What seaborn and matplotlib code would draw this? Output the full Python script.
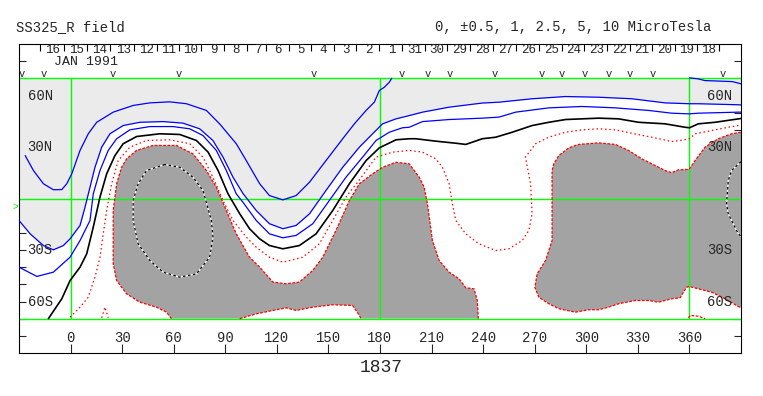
import matplotlib
matplotlib.use("Agg")
import matplotlib.pyplot as plt
import seaborn as sns

sns.set_style("white")
plt.rcParams['font.family'] = ['Liberation Mono', 'DejaVu Sans Mono']

# --- contour lines (longitude, latitude) ---
# 10 uT (outer blue), two pieces
b10_lon = [-26.4, -21.6, -15.8, -10.0, -5.1, -2.2, 0.7, 5.5, 10.3, 15.2, 24.8, 36.4, 46.1, 57.7, 67.4,
           79.0, 86.7, 96.4, 102.2, 110.0, 115.7, 123.5, 131.2, 139.0, 148.6, 158.3, 165.1, 171.9,
           176.7, 179.6, 182.5, 185.4, 186.8]
b10_lat = [25.0, 16.3, 8.6, 5.1, 5.2, 8.6, 14.4, 28.0, 37.7, 44.4, 50.3, 54.2, 55.7, 56.3, 55.2,
           51.3, 43.5, 31.9, 22.1, 8.6, 1.7, -0.8, 1.7, 9.5, 22.1, 34.8, 43.5, 51.3,
           56.1, 62.9, 64.8, 67.7, 70.0]
b10r_lon = [360.0, 365.0, 369.0, 385.0, 390.0]
b10r_lat = [70.3, 69.7, 68.7, 68.1, 66.8]

# 5 uT (blue, edge of the light grey area)
b5_lon = [-30.0, -23.5, -15.8, -10.0, -4.2, -0.3, 5.5, 8.4, 11.3, 14.2, 18.1, 22.9, 30.6, 40.3, 53.8,
          65.4, 75.1, 82.8, 88.7, 94.5, 100.3, 108.0, 115.7, 123.5, 131.2, 139.0, 148.6, 158.3, 168.0,
          175.7, 181.5, 189.3, 197.0, 204.7, 220.2, 239.5, 249.2, 268.5, 287.9, 307.2, 326.5, 345.8,
          360.0, 365.2, 388.4, 390.0]
b5_lat = [-12.8, -20.6, -27.4, -29.9, -27.4, -23.5, -15.7, -5.1, 6.6, 18.2, 29.9, 37.7, 42.5, 44.4, 44.8,
          43.9, 40.6, 33.8, 24.1, 12.4, 2.9, -7.0, -14.7, -17.6, -15.7, -8.9, 4.7, 18.2, 29.9,
          37.7, 43.5, 46.4, 48.3, 50.3, 53.2, 55.6, 56.1, 58.1, 59.4, 59.0, 58.1, 55.7,
          55.2, 55.2, 54.6, 54.5]

# 2.5 uT (blue)
b25_lon = [-30.0, -19.6, -10.0, -0.3, 5.5, 11.3, 13.2, 17.1, 21.9, 26.8, 34.5, 46.1, 59.6, 69.3, 77.0,
           84.8, 90.6, 96.4, 100.3, 108.0, 115.7, 123.5, 131.2, 140.9, 150.5, 160.2, 169.9, 177.7,
           185.4, 193.1, 197.0, 204.7, 220.2, 239.5, 249.2, 258.9, 278.2, 297.5, 316.9, 336.2, 349.7,
           360.0, 365.2, 388.4, 390.0]
b25_lat = [-40.0, -45.4, -42.9, -34.2, -24.5, -12.8, 2.7, 16.3, 28.0, 34.8, 40.0, 41.9, 41.9, 40.6, 36.7,
           28.0, 16.3, 2.7, -2.2, -12.8, -20.6, -22.9, -21.5, -14.7, -1.2, 12.4, 24.1, 33.8,
           38.6, 41.2, 41.5, 44.8, 46.0, 46.8, 47.4, 50.3, 52.8, 53.6, 52.8, 51.3, 49.7,
           49.3, 49.7, 50.3, 50.3]

# 1 uT (black)
k1_lon = [-12.9, -5.1, -0.3, 5.5, 9.4, 13.2, 17.1, 21.0, 25.8, 30.6, 38.4, 51.9, 63.5, 73.2, 80.0,
          85.8, 91.6, 98.4, 104.1, 110.0, 115.7, 123.5, 133.1, 142.8, 152.5, 162.2, 171.9, 179.6,
          189.3, 197.0, 200.9, 212.5, 224.1, 229.9, 239.5, 247.3, 256.9, 268.5, 278.2, 287.9, 307.2,
          318.8, 330.4, 345.8, 357.5, 360.0, 365.2, 374.9, 384.5, 390.0]
k1_lat = [-70.0, -58.4, -47.8, -40.0, -32.2, -16.7, 0.8, 14.4, 25.0, 31.9, 36.1, 37.7, 37.3, 33.8, 27.0,
          16.3, 2.7, -8.9, -17.6, -23.5, -27.4, -29.3, -27.4, -20.6, -7.0, 8.6, 22.1, 29.5,
          34.2, 34.8, 34.8, 33.4, 32.2, 31.5, 34.8, 35.7, 38.6, 42.5, 44.4, 46.0, 46.8,
          46.4, 44.4, 43.5, 41.5, 41.2, 43.5, 44.4, 45.8, 46.6]

# 0.5 uT (red dotted)
r05_lon = [-0.3, 5.5, 10.3, 14.2, 17.1, 19.0, 21.0, 23.9, 27.7, 34.5, 44.2, 57.7, 69.3, 77.0, 82.8,
           88.7, 94.5, 102.2, 108.0, 115.7, 123.5, 135.1, 144.7, 152.5, 160.2, 167.0, 177.7, 187.3,
           197.0, 204.7, 212.5, 216.3, 220.2, 222.1, 224.1, 229.9, 237.6, 247.3, 255.0, 262.7, 266.6,
           268.5, 267.6, 264.6, 270.5, 278.2, 287.9, 297.5, 307.2, 316.9, 326.5, 338.1, 349.7, 354.6,
           360.0, 363.3, 373.0, 382.6, 390.0]
r05_lat = [-69.1, -63.3, -57.5, -45.8, -34.2, -20.6, -7.0, 8.6, 22.1, 29.9, 33.8, 34.2, 31.9, 24.1, 12.4,
           -1.2, -12.8, -22.5, -28.4, -34.2, -37.1, -34.2, -26.4, -12.8, 0.8, 9.5, 24.1, 27.0,
           28.0, 27.0, 23.1, 18.2, 8.6, -3.1, -12.8, -20.6, -26.4, -30.3, -29.3, -24.5, -18.6,
           -8.9, 8.6, 24.1, 31.9, 35.7, 38.6, 40.0, 40.6, 40.0, 38.0, 35.7, 33.2, 33.8,
           34.8, 37.7, 39.6, 41.5, 42.8]
r05s_lon = [18.1, 20.0, 21.9]
r05s_lat = [-69.5, -63.3, -69.5]

# 0 uT (red dashed, edge of the dark grey areas)
r0_lon = [58.7, 55.8, 50.0, 40.3, 32.6, 26.8, 24.8, 24.8, 26.8, 29.7, 32.6, 38.4, 48.0, 61.6, 71.2,
          79.0, 84.8, 90.6, 96.4, 104.1, 110.0, 117.7, 125.4, 133.1, 140.9, 146.7, 154.4, 162.2,
          168.0, 175.7, 181.5, 189.3, 197.0, 202.8, 205.7, 207.6, 210.5, 214.4, 220.2, 226.0, 229.9,
          234.7, 236.6, 237.2]
r0_lat = [-70.0, -66.2, -63.3, -60.4, -55.5, -47.8, -38.0, -7.0, 8.6, 18.2, 23.1, 28.0, 30.9, 30.9, 26.0,
          16.3, 6.6, -7.0, -20.6, -34.2, -40.0, -48.7, -49.7, -48.7, -41.9, -34.2, -18.6, -1.2,
          8.6, 14.4, 18.2, 21.1, 20.2, 12.4, 6.6, -3.1, -24.5, -36.1, -42.9, -46.8, -52.0,
          -52.6, -59.4, -70.0]
r0b_lon = [98.4, 108.0, 117.7, 125.4, 131.2, 140.9, 152.5, 164.1, 168.0, 168.9]
r0b_lat = [-70.0, -67.2, -65.2, -63.7, -65.2, -63.3, -61.9, -62.3, -68.1, -70.0]
r0r_lon = [390.0, 384.5, 376.8, 369.1, 363.3, 360.0, 358.4, 353.6, 349.7, 345.8, 340.1, 332.3, 324.6,
           316.9, 307.2, 295.6, 289.8, 284.0, 281.1, 280.1, 280.1, 280.1, 276.3, 271.4, 270.1, 272.4,
           278.2, 284.0, 293.7, 301.4, 307.2, 313.0, 318.8, 328.5, 336.2, 342.0, 349.7, 354.6, 356.5,
           358.4, 360.0, 365.2, 373.0, 380.7, 390.0]
r0r_lat = [38.6, 37.7, 34.8, 29.9, 22.1, 17.3, 16.9, 16.7, 15.0, 16.3, 19.2, 23.1, 28.0,
           31.5, 32.4, 31.5, 29.5, 25.0, 20.2, 16.3, -3.1, -24.5, -36.1, -43.9, -51.7, -57.5,
           -61.3, -64.2, -66.2, -64.8, -64.8, -63.3, -61.3, -59.4, -59.4, -60.4, -58.4, -57.8, -54.6,
           -51.7, -51.3, -52.6, -54.6, -58.4, -63.8]
r0s_lon = [359.4, 360.5, 365.2, 369.1]
r0s_lat = [-69.5, -68.1, -68.6, -70.0]

# -0.5 uT (black/white dashed, inside the dark grey)
m05_lon = [54.8, 44.2, 39.3, 36.4, 36.4, 39.3, 46.1, 53.8, 63.5, 73.2, 80.9, 82.8, 81.9, 77.0, 71.2, 63.5, 54.8]
m05_lat = [19.8, 16.3, 8.6, -1.2, -12.8, -26.4, -36.1, -42.9, -45.8, -43.9, -34.2, -22.5, -12.8, 4.7, 12.4, 18.2, 19.8]
m05r_lon = [390.0, 384.5, 382.6, 381.6, 382.6, 384.5, 388.4, 390.0]
m05r_lat = [21.5, 16.3, 10.5, -3.1, -9.0, -12.8, -20.6, -22.0]

# --- axis annotations ---
lon_ticks = [0, 30, 60, 90, 120, 150, 180, 210, 240, 270, 300, 330, 360]
lat_ticks = [-80, -70, -60, -50, -40, -30, -20, -10, 0, 10, 20, 30, 40, 50, 60, 70, 80]
lat_labels = {60: '60N', 30: '30N', -30: '30S', -60: '60S'}
day_edges = [-17.8, -3.9, 9.3, 23.2, 36.8, 50.0, 62.9, 76.1, 89.1, 102.7, 113.6, 126.9, 140.1, 153.0,
             166.2, 179.6, 192.8, 205.9, 218.9, 232.4, 246.0, 259.2, 272.5, 285.7, 298.9, 312.1,
             325.3, 338.4, 351.6, 364.2, 377.3]
day_labels = ['16', '15', '14', '13', '12', '11', '10', '9', '8', '7', '6', '5', '4', '3', '2', '1',
              '31', '30', '29', '28', '27', '26', '25', '24', '23', '22', '21', '20', '19', '18']
pass_lon = [-28.5, -15.7, 24.4, 62.8, 141.2, 192.9, 208.0, 220.8, 247.0, 274.3, 285.9, 299.3,
            313.2, 325.4, 338.8, 379.5]

BLUE, RED, GREEN = '#0000ff', '#ff0000', '#00ff00'
LIGHT, DARK = '#ebebeb', '#a3a3a3'
FS = 10

fig = plt.figure(figsize=(7.63, 3.96), dpi=100)
ax = fig.add_axes([19 / 763, 43 / 396, 722 / 763, 309 / 396])
ax.set_xlim(-30, 390)
ax.set_ylim(-90, 90)

# filled areas
ax.fill_between(b5_lon, b5_lat, 70, color=LIGHT, lw=0, zorder=1)
ax.fill(r0_lon + r0b_lon[::-1], r0_lat + r0b_lat[::-1], color=DARK, lw=0, zorder=1)
ax.fill(r0r_lon, r0r_lat, color=DARK, lw=0, zorder=1)

# green reference lines
for la in [70, 0, -70]:
    ax.plot([-30, 390], [la, la], color=GREEN, lw=1, zorder=2)
for lo in [0, 180, 360]:
    ax.plot([lo, lo], [-70, 70], color=GREEN, lw=1, zorder=2)

# contour lines
def line(x, y, color, lw=0.9, ls='-', z=3):
    sns.lineplot(x=x, y=y, sort=False, estimator=None, color=color, lw=lw,
                 linestyle=ls, ax=ax, zorder=z)

for xs, ys in [(b10_lon, b10_lat), (b10r_lon, b10r_lat), (b5_lon, b5_lat), (b25_lon, b25_lat)]:
    line(xs, ys, BLUE)
line(k1_lon, k1_lat, 'black', lw=1.2)
for xs, ys in [(r05_lon, r05_lat), (r05s_lon, r05s_lat)]:
    line(xs, ys, RED, ls=(0, (1.2, 2.2)))
for xs, ys in [(r0_lon, r0_lat), (r0b_lon, r0b_lat), (r0r_lon, r0r_lat), (r0s_lon, r0s_lat)]:
    line(xs, ys, RED, ls=(0, (2.2, 1.2)))
for xs, ys in [(m05_lon, m05_lat), (m05r_lon, m05r_lat)]:
    line(xs, ys, 'white', lw=0.9)
    line(xs, ys, 'black', lw=0.9, ls=(0, (2, 2)), z=4)

# frame and ticks
for s in ax.spines.values():
    s.set_color('black')
    s.set_linewidth(0.8)
ax.set_xticks(lon_ticks)
ax.set_yticks(lat_ticks)
ax.set_xticklabels([])
ax.set_yticklabels([])
ax.tick_params(axis='x', direction='in', length=6.5, width=0.8, bottom=True, top=False)
ax.tick_params(axis='y', direction='in', length=5.2, width=0.8, left=True, right=True)
ax.set_xlabel('')
ax.set_ylabel('')
for lo in lon_ticks:
    ax.text(lo, -81.5, str(lo), ha='center', va='center', fontsize=FS)
for la, t in lat_labels.items():
    ax.text(-25.0, la, t, ha='left', va='center', fontsize=FS)
    ax.text(384.7, la, t, ha='right', va='center', fontsize=FS)

# date strip along the top
ax.vlines(day_edges, 86.0, 90, color='black', lw=0.8)
for a, b, t in zip(day_edges[:-1], day_edges[1:], day_labels):
    ax.text((a + b) / 2 + 0.6, 86.3, t, ha='center', va='center', fontsize=9)
ax.text(8.7, 79.3, 'JAN 1991', ha='center', va='center', fontsize=9.5)
for lo in pass_lon:
    ax.text(lo, 72.6, 'v', ha='center', va='center', fontsize=7.5)
ax.text(-32, -4.7, '>', color=GREEN, ha='center', va='center', fontsize=7, clip_on=False)

fig.text(16 / 763, 1 - 27 / 396, 'SS325_R field', ha='left', va='center', fontsize=FS)
fig.text(711 / 763, 1 - 27 / 396, '0, \u00b10.5, 1, 2.5, 5, 10 MicroTesla', ha='right', va='center', fontsize=FS)
fig.text(381 / 763, 1 - 367 / 396, '1837', ha='center', va='center', fontsize=13)

fig.savefig('out.png', dpi=100)
